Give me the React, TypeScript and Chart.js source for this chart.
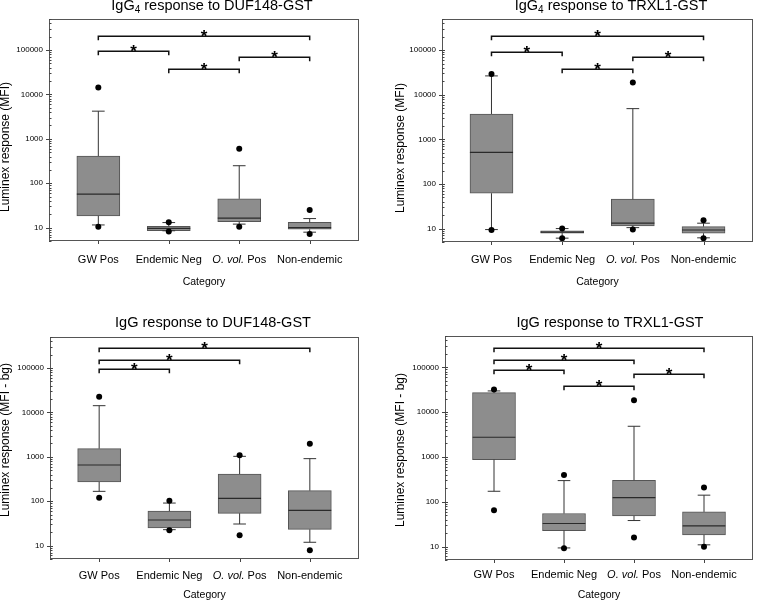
import React, { useEffect, useRef } from 'react';
import { Chart, registerables } from 'chart.js';

Chart.register(...registerables);

const FONT = '"Liberation Sans", Arial, Helvetica, sans-serif';

// ---------- data ----------
const categories = ['GW Pos', 'Endemic Neg', 'O. vol. Pos', 'Non-endemic'];
const italicPrefix = 'O. vol.';
const yTickValues = [10, 100, 1000, 10000, 100000];
const yMin = 5;
const yMax = 500000;

// IgG4 response to DUF148-GST
const igg4DufQ1 = [18.4, 8.5, 13.7, 9.2];
const igg4DufMedian = [56.6, 9.6, 16.3, 10];
const igg4DufQ3 = [410, 10.7, 44.5, 13.2];
const igg4DufLow = [11.5, 8.5, 12, 7.9];
const igg4DufHigh = [4200, 13, 248, 16];
const igg4DufOutliers = [[14300, 10.5], [13.3, 8.2], [600, 10.5], [25, 7.2]];
const igg4DufBrackets = [[0, 3, 203000], [0, 1, 93300], [1, 2, 37900], [2, 3, 70700]];

// IgG4 response to TRXL1-GST
const igg4TrxQ1 = [62, 7.9, 11.5, 7.85];
const igg4TrxMedian = [510, 8.3, 13.2, 9.3];
const igg4TrxQ3 = [3710, 8.9, 45.6, 11.1];
const igg4TrxLow = [9.5, 6.1, 10.5, 6.2];
const igg4TrxHigh = [26500, 10, 4890, 13.2];
const igg4TrxOutliers = [[29400, 9.3], [10, 6.1], [18800, 9.5], [15.4, 6.1]];
const igg4TrxBrackets = [[0, 3, 203000], [0, 1, 93300], [1, 2, 38000], [2, 3, 70800]];

// IgG response to DUF148-GST
const iggDufQ1 = [271, 25, 53.5, 23.3];
const iggDufMedian = [655, 37.8, 116, 62.5];
const iggDufQ3 = [1530, 60, 410, 173];
const iggDufLow = [167, 22.9, 30.7, 11.9];
const iggDufHigh = [14200, 91, 1026, 910];
const iggDufOutliers = [[22600, 120], [103, 22.1], [1080, 17.1], [1980, 7.85]];
const iggDufBrackets = [[0, 3, 282000], [0, 2, 154000], [0, 1, 93400]];

// IgG response to TRXL1-GST
const iggTrxQ1 = [873, 22.7, 48.3, 18.2];
const iggTrxMedian = [2750, 32.6, 124, 28.9];
const iggTrxQ3 = [27200, 54.5, 302, 59.3];
const iggTrxLow = [171, 9.3, 38, 10.9];
const iggTrxHigh = [29700, 296, 4830, 140];
const iggTrxOutliers = [[31800, 64.6], [397, 9.2], [18400, 15.9], [207, 9.9]];
const iggTrxBrackets = [[0, 3, 270000], [0, 2, 148000], [0, 1, 88700], [1, 2, 38300], [2, 3, 69800]];

type Panel = {
  title: [string, string, string];
  yTitle: string;
  q1: number[]; med: number[]; q3: number[]; lo: number[]; hi: number[];
  out: number[][]; brackets: number[][];
  x: number; y: number; w: number; h: number;
  area: { l: number; t: number; r: number; b: number };
  titleX: number; titleBase: number;
  yTitleX: number; yTitleY: number;
  catY: number; catTitleY: number;
};

const panels: Panel[] = [
  {
    title: ['IgG', '4', ' response to DUF148-GST'], yTitle: 'Luminex response (MFI)',
    q1: igg4DufQ1, med: igg4DufMedian, q3: igg4DufQ3, lo: igg4DufLow, hi: igg4DufHigh,
    out: igg4DufOutliers, brackets: igg4DufBrackets,
    x: 0, y: 0, w: 378, h: 300, area: { l: 49, t: 19, r: 359, b: 241 },
    titleX: 212, titleBase: 9.5, yTitleX: 6, yTitleY: 147, catY: 259.5, catTitleY: 282,
  },
  {
    title: ['IgG', '4', ' response to TRXL1-GST'], yTitle: 'Luminex response (MFI)',
    q1: igg4TrxQ1, med: igg4TrxMedian, q3: igg4TrxQ3, lo: igg4TrxLow, hi: igg4TrxHigh,
    out: igg4TrxOutliers, brackets: igg4TrxBrackets,
    x: 378, y: 0, w: 379, h: 300, area: { l: 64, t: 19, r: 378, b: 242 },
    titleX: 233, titleBase: 9.5, yTitleX: 23, yTitleY: 148, catY: 259.5, catTitleY: 282,
  },
  {
    title: ['IgG', '', ' response to DUF148-GST'], yTitle: 'Luminex response (MFI - bg)',
    q1: iggDufQ1, med: iggDufMedian, q3: iggDufQ3, lo: iggDufLow, hi: iggDufHigh,
    out: iggDufOutliers, brackets: iggDufBrackets,
    x: 0, y: 300, w: 378, h: 301, area: { l: 50, t: 37, r: 359, b: 259 },
    titleX: 213, titleBase: 27, yTitleX: 6, yTitleY: 140, catY: 275.5, catTitleY: 295,
  },
  {
    title: ['IgG', '', ' response to TRXL1-GST'], yTitle: 'Luminex response (MFI - bg)',
    q1: iggTrxQ1, med: iggTrxMedian, q3: iggTrxQ3, lo: iggTrxLow, hi: iggTrxHigh,
    out: iggTrxOutliers, brackets: iggTrxBrackets,
    x: 378, y: 300, w: 379, h: 301, area: { l: 67, t: 36, r: 378, b: 260 },
    titleX: 232, titleBase: 27, yTitleX: 23, yTitleY: 150, catY: 275, catTitleY: 295,
  },
];

const BOX_HALF = 0.305;
const CAP_HALF = 0.09;

function buildDatasets(p: Panel): any[] {
  const boxes = p.q1.map((v, i) => ({ x: i, y: [v, p.q3[i]] }));
  const whiskers: any[] = [];
  const caps: any[] = [];
  const medians: any[] = [];
  p.q1.forEach((_, i) => {
    whiskers.push({ x: i, y: p.q3[i] }, { x: i, y: p.hi[i] }, { x: i, y: null });
    whiskers.push({ x: i, y: p.lo[i] }, { x: i, y: p.q1[i] }, { x: i, y: null });
    caps.push({ x: i - CAP_HALF, y: p.hi[i] }, { x: i + CAP_HALF, y: p.hi[i] }, { x: i, y: null });
    caps.push({ x: i - CAP_HALF, y: p.lo[i] }, { x: i + CAP_HALF, y: p.lo[i] }, { x: i, y: null });
    medians.push({ x: i - BOX_HALF, y: p.med[i] }, { x: i + BOX_HALF, y: p.med[i] }, { x: i, y: null });
  });
  const outliers = p.out.flatMap((vals, i) => vals.map((v) => ({ x: i, y: v })));
  return [
    {
      type: 'bar', data: boxes, order: 5, backgroundColor: '#8d8d8d', borderColor: '#555555',
      borderWidth: 1, borderSkipped: false, barThickness: 43,
    },
    {
      type: 'line', data: whiskers, order: 4, borderColor: '#333333', borderWidth: 1,
      pointRadius: 0, spanGaps: false, fill: false, tension: 0,
    },
    {
      type: 'line', data: caps, order: 3, borderColor: '#333333', borderWidth: 1,
      pointRadius: 0, spanGaps: false, fill: false, tension: 0,
    },
    {
      type: 'line', data: medians, order: 2, borderColor: '#2a2a2a', borderWidth: 1.2,
      pointRadius: 0, spanGaps: false, fill: false, tension: 0,
    },
    {
      type: 'line', data: outliers, order: 1, showLine: false, pointRadius: 3,
      pointBackgroundColor: '#000000', pointBorderColor: '#000000', pointBorderWidth: 0,
    },
  ];
}

function drawDecor(chart: any, p: Panel) {
  const ctx: CanvasRenderingContext2D = chart.ctx;
  const { left, right, top, bottom } = chart.chartArea;
  const xs = chart.scales.x;
  const ys = chart.scales.y;
  ctx.save();

  // frame
  ctx.strokeStyle = '#555555';
  ctx.lineWidth = 1;
  ctx.strokeRect(left + 0.5, top + 0.5, right - left - 1, bottom - top - 1);

  // y ticks
  ctx.strokeStyle = '#444444';
  ctx.beginPath();
  for (let e = 0; e <= 6; e++) {
    for (let m = 2; m <= 9; m++) {
      const v = m * Math.pow(10, e);
      if (v < yMin || v > yMax) continue;
      const py = Math.round(ys.getPixelForValue(v)) + 0.5;
      ctx.moveTo(left, py);
      ctx.lineTo(left + 2.5, py);
    }
  }
  yTickValues.forEach((v) => {
    const py = Math.round(ys.getPixelForValue(v)) + 0.5;
    ctx.moveTo(left - 3, py);
    ctx.lineTo(left + 3, py);
  });
  // x ticks
  categories.forEach((_, i) => {
    const px = Math.round(xs.getPixelForValue(i)) + 0.5;
    ctx.moveTo(px, bottom);
    ctx.lineTo(px, bottom + 3);
  });
  ctx.stroke();

  // y tick labels
  ctx.fillStyle = '#000000';
  ctx.font = `8px ${FONT}`;
  ctx.textAlign = 'right';
  ctx.textBaseline = 'middle';
  yTickValues.forEach((v) => {
    ctx.fillText(String(v), left - 6, ys.getPixelForValue(v));
  });

  // category labels
  ctx.textBaseline = 'middle';
  ctx.textAlign = 'left';
  categories.forEach((c, i) => {
    const cx = xs.getPixelForValue(i);
    if (c.startsWith(italicPrefix)) {
      const rest = c.slice(italicPrefix.length);
      ctx.font = `italic 11px ${FONT}`;
      const w1 = ctx.measureText(italicPrefix).width;
      ctx.font = `11px ${FONT}`;
      const w2 = ctx.measureText(rest).width;
      const x0 = cx - (w1 + w2) / 2;
      ctx.font = `italic 11px ${FONT}`;
      ctx.fillText(italicPrefix, x0, p.catY);
      ctx.font = `11px ${FONT}`;
      ctx.fillText(rest, x0 + w1, p.catY);
    } else {
      ctx.font = `11px ${FONT}`;
      const w = ctx.measureText(c).width;
      ctx.fillText(c, cx - w / 2, p.catY);
    }
  });

  // x title
  ctx.font = `10.5px ${FONT}`;
  ctx.textAlign = 'center';
  ctx.fillText('Category', (left + right) / 2, p.catTitleY);

  // y title
  ctx.save();
  ctx.translate(p.yTitleX, p.yTitleY);
  ctx.rotate(-Math.PI / 2);
  ctx.font = `12px ${FONT}`;
  ctx.textAlign = 'center';
  ctx.textBaseline = 'middle';
  ctx.fillText(p.yTitle, 0, 0);
  ctx.restore();

  // title with subscript
  const big = `14.5px ${FONT}`;
  const small = `10px ${FONT}`;
  ctx.textAlign = 'left';
  ctx.textBaseline = 'alphabetic';
  ctx.font = big;
  const w1 = ctx.measureText(p.title[0]).width;
  const w3 = ctx.measureText(p.title[2]).width;
  ctx.font = small;
  const w2 = p.title[1] ? ctx.measureText(p.title[1]).width : 0;
  let tx = p.titleX - (w1 + w2 + w3) / 2;
  ctx.font = big;
  ctx.fillText(p.title[0], tx, p.titleBase);
  tx += w1;
  if (p.title[1]) {
    ctx.font = small;
    ctx.fillText(p.title[1], tx, p.titleBase + 3.5);
    tx += w2;
  }
  ctx.font = big;
  ctx.fillText(p.title[2], tx, p.titleBase);

  // significance brackets
  ctx.strokeStyle = '#111111';
  ctx.lineWidth = 1.5;
  ctx.textAlign = 'center';
  ctx.textBaseline = 'alphabetic';
  ctx.font = `bold 17px ${FONT}`;
  p.brackets.forEach(([a, b, level]) => {
    const x1 = xs.getPixelForValue(a);
    const x2 = xs.getPixelForValue(b);
    const y = Math.round(ys.getPixelForValue(level)) + 0.25;
    ctx.beginPath();
    ctx.moveTo(x1, y + 4);
    ctx.lineTo(x1, y);
    ctx.lineTo(x2, y);
    ctx.lineTo(x2, y + 4);
    ctx.stroke();
    ctx.fillText('*', (x1 + x2) / 2, y + 6);
  });

  ctx.restore();
}

function BoxPanel({ p }: { p: Panel }) {
  const ref = useRef<HTMLCanvasElement>(null);
  useEffect(() => {
    if (!ref.current) return;
    const chart = new Chart(ref.current, {
      type: 'bar',
      data: { datasets: buildDatasets(p) as any },
      options: {
        responsive: false,
        animation: false,
        devicePixelRatio: 1,
        layout: {
          padding: { left: p.area.l, top: p.area.t, right: p.w - p.area.r, bottom: p.h - p.area.b },
        },
        plugins: { legend: { display: false }, tooltip: { enabled: false }, title: { display: false } },
        scales: {
          x: { type: 'linear', min: -0.7, max: 3.7, display: false, offset: false },
          y: { type: 'logarithmic', min: yMin, max: yMax, display: false, beginAtZero: false },
        },
      } as any,
      plugins: [{ id: 'decor' + p.x + p.y, afterDraw: (c: any) => drawDecor(c, p) }],
    });
    return () => chart.destroy();
  }, [p]);
  return (
    <canvas
      ref={ref}
      width={p.w}
      height={p.h}
      style={{ position: 'absolute', left: p.x, top: p.y, width: p.w, height: p.h }}
    />
  );
}

export default function App() {
  return (
    <div style={{ position: 'absolute', left: 0, top: 0, width: 757, height: 601, background: '#ffffff' }}>
      {panels.map((p, i) => (
        <BoxPanel key={i} p={p} />
      ))}
    </div>
  );
}
